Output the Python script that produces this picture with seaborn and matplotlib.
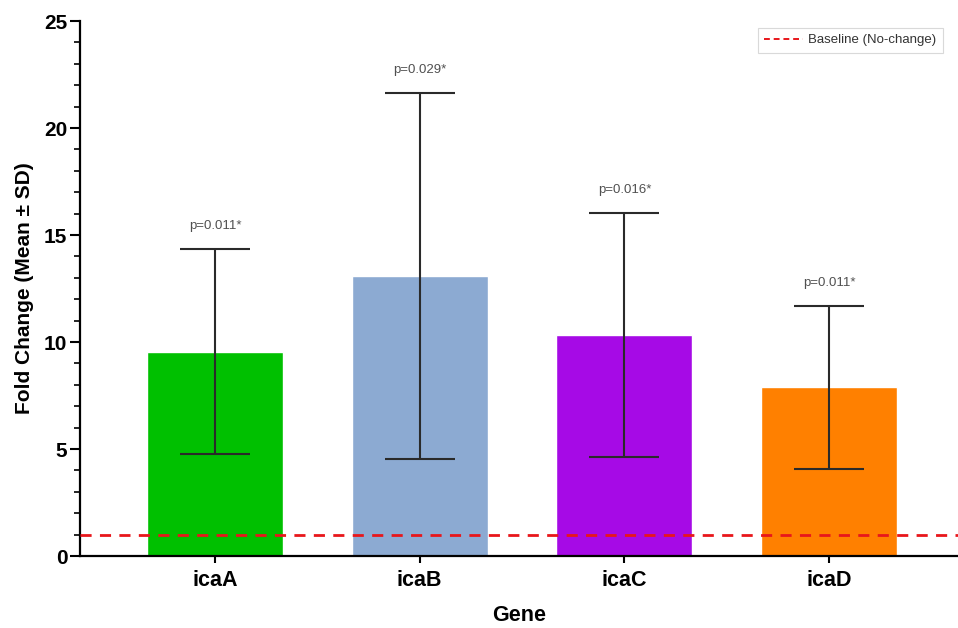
import numpy as np
import pandas as pd
import seaborn as sns
import matplotlib.pyplot as plt
from matplotlib.ticker import MultipleLocator
from matplotlib.lines import Line2D

genes = ["icaA", "icaB", "icaC", "icaD"]
mean_fc = [9.55, 13.08, 10.33, 7.88]
sd_fc = [4.8, 8.55, 5.7, 3.8]
p_labels = ["p=0.011*", "p=0.029*", "p=0.016*", "p=0.011*"]
bar_colors = ["#00C000", "#8CAAD2", "#A60AE6", "#FF8000"]
baseline = 1.0

df = pd.DataFrame({"Gene": genes, "fold": mean_fc, "sd": sd_fc})

sns.set_style("ticks")
plt.rcParams["font.family"] = ["Liberation Sans", "DejaVu Sans"]
plt.rcParams["text.color"] = "black"
plt.rcParams["axes.labelcolor"] = "black"
plt.rcParams["xtick.color"] = "black"
plt.rcParams["ytick.color"] = "black"

fig = plt.figure(figsize=(9.58, 6.28), dpi=100)
ax = fig.add_axes([0.0835, 0.1145, 0.9165, 0.852])

sns.barplot(data=df, x="Gene", y="fold", hue="Gene", palette=bar_colors,
            legend=False, width=0.665, saturation=1, ax=ax)

x = np.arange(len(genes))
ax.errorbar(x, df["fold"], yerr=df["sd"], fmt="none", ecolor="#2a2a2a",
            elinewidth=1.5, capsize=25, capthick=1.5, zorder=3)

for xi, m, s, lab in zip(x, mean_fc, sd_fc, p_labels):
    ax.text(xi, m + s + 0.8, lab, ha="center", va="bottom", fontsize=9.5, color="#505050")

ax.axhline(baseline, color="#E8161B", linestyle=(0, (4, 3)), linewidth=2, zorder=4)

ax.set_xlim(-0.66, 3.63)
ax.set_ylim(0, 25)
ax.yaxis.set_major_locator(MultipleLocator(5))
ax.yaxis.set_minor_locator(MultipleLocator(1))

sns.despine(ax=ax)
for side in ["left", "bottom"]:
    ax.spines[side].set_linewidth(1.6)
    ax.spines[side].set_color("black")

ax.tick_params(axis="y", which="major", length=7, width=1.5, labelsize=15, pad=2)
ax.tick_params(axis="y", which="minor", length=4, width=1.2)
ax.tick_params(axis="x", length=5, width=1.5, labelsize=15.5, pad=5)
for t in ax.get_xticklabels() + ax.get_yticklabels():
    t.set_fontweight("bold")

ax.set_xlabel("Gene", fontsize=15.5, fontweight="bold", labelpad=10)
ax.set_ylabel("Fold Change (Mean ± SD)", fontsize=15, fontweight="bold", labelpad=7)

handle = Line2D([], [], color="#E8161B", linestyle=(0, (3, 2)), linewidth=1.4)
leg = ax.legend([handle], ["Baseline (No-change)"], loc="upper right",
                bbox_to_anchor=(0.99, 1.0), fontsize=9.5, frameon=True,
                fancybox=False, handlelength=2.9, handletextpad=0.4,
                borderpad=0.5)
leg.get_frame().set_edgecolor("#d0d0d0")
leg.get_frame().set_linewidth(0.8)
for t in leg.get_texts():
    t.set_color("#333333")

fig.savefig("out.png", dpi=100)
